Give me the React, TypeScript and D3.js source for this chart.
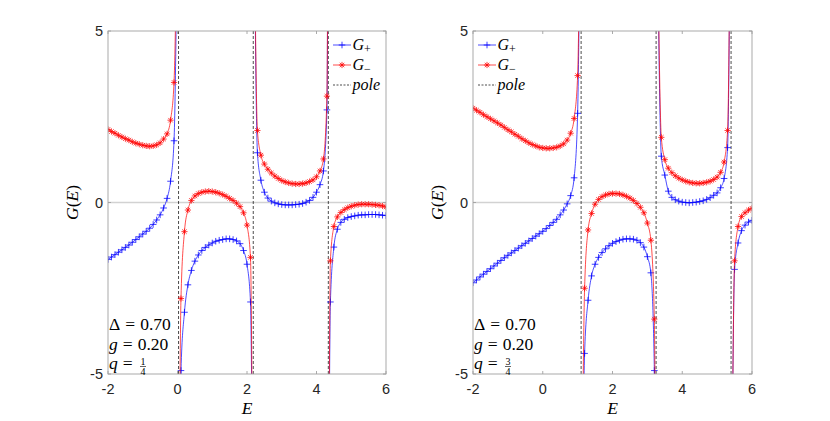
import React, { useEffect } from "react";
import * as d3 from "d3";

// ---------- data ----------
const energies = [
  -2.0, -1.9, -1.8, -1.7, -1.6, -1.5, -1.4, -1.3, -1.2, -1.1,
  -1.0, -0.9, -0.8, -0.7, -0.6, -0.5, -0.4, -0.3, -0.2, -0.1,
  0.0, 0.1, 0.2, 0.3, 0.4, 0.5, 0.6, 0.7, 0.8, 0.9,
  1.0, 1.1, 1.2, 1.3, 1.4, 1.5, 1.6, 1.7, 1.8, 1.9,
  2.0, 2.1, 2.2, 2.3, 2.4, 2.5, 2.6, 2.7, 2.8, 2.9,
  3.0, 3.1, 3.2, 3.3, 3.4, 3.5, 3.6, 3.7, 3.8, 3.9,
  4.0, 4.1, 4.2, 4.3, 4.4, 4.5, 4.6, 4.7, 4.8, 4.9,
  5.0, 5.1, 5.2, 5.3, 5.4, 5.5, 5.6, 5.7, 5.8, 5.9,
  6.0,
];

const polesLeft = [0.03, 2.18, 4.34];
const polesRight = [1.1, 3.25, 5.4];

const gPlusLeft: (number | null)[] = [
  -1.66, -1.59, -1.52, -1.45, -1.38, -1.31, -1.24, -1.16, -1.08, -1.0,
  -0.92, -0.84, -0.75, -0.64, -0.51, -0.36, -0.16, 0.12, 0.62, 1.8,
  null, -4.9, -3.2, -2.4, -1.98, -1.71, -1.53, -1.4, -1.31, -1.24,
  -1.18, -1.13, -1.1, -1.08, -1.06, -1.06, -1.08, -1.12, -1.2, -1.4,
  -1.8, -2.9, null, 1.45, 0.65, 0.3, 0.13, 0.04, -0.01, -0.04,
  -0.06, -0.07, -0.07, -0.07, -0.06, -0.05, -0.03, 0.01, 0.06, 0.15,
  0.3, 0.52, 0.92, 2.7, -2.9, -1.3, -0.78, -0.58, -0.49, -0.44,
  -0.41, -0.39, -0.37, -0.36, -0.36, -0.35, -0.35, -0.35, -0.36, -0.37,
  -0.38,
];
const gMinusLeft: (number | null)[] = [
  2.13, 2.07, 2.02, 1.96, 1.91, 1.86, 1.82, 1.77, 1.73, 1.7,
  1.67, 1.65, 1.64, 1.65, 1.68, 1.74, 1.85, 2.0, 2.4, 3.5,
  null, -2.8, -0.85, -0.22, 0.06, 0.19, 0.26, 0.3, 0.32, 0.33,
  0.32, 0.3, 0.27, 0.23, 0.18, 0.12, 0.06, -0.02, -0.12, -0.3,
  -0.66, -1.6, null, 2.1, 1.38, 1.12, 0.97, 0.86, 0.77, 0.7,
  0.64, 0.6, 0.57, 0.55, 0.54, 0.54, 0.55, 0.57, 0.61, 0.66,
  0.75, 0.92, 1.27, 3.1, -1.7, -0.7, -0.42, -0.29, -0.21, -0.15,
  -0.11, -0.08, -0.06, -0.05, -0.05, -0.05, -0.06, -0.07, -0.08, -0.1,
  -0.13,
];
const gPlusRight: (number | null)[] = [
  -2.34, -2.26, -2.17, -2.09, -2.01, -1.93, -1.85, -1.77, -1.69, -1.61,
  -1.54, -1.47, -1.4, -1.33, -1.26, -1.19, -1.12, -1.05, -0.98, -0.91,
  -0.84, -0.76, -0.67, -0.58, -0.49, -0.36, -0.22, -0.04, 0.2, 0.72,
  2.6, null, -4.4, -2.85, -2.14, -1.8, -1.6, -1.46, -1.35, -1.26,
  -1.19, -1.14, -1.1, -1.07, -1.06, -1.06, -1.07, -1.1, -1.17, -1.3,
  -1.58, -2.05, -4.9, null, 1.35, 0.8, 0.33, 0.15, 0.08, 0.04,
  0.01, 0.0, -0.01, 0.0, 0.01, 0.03, 0.05, 0.09, 0.14, 0.21,
  0.28, 0.43, 0.7, 1.6, null, -1.95, -1.18, -0.82, -0.66, -0.57,
  -0.52,
];
const gMinusRight: (number | null)[] = [
  2.75, 2.69, 2.63, 2.56, 2.5, 2.44, 2.38, 2.32, 2.26, 2.19,
  2.12, 2.06, 1.99, 1.93, 1.86, 1.8, 1.74, 1.69, 1.65, 1.61,
  1.59, 1.58, 1.58, 1.59, 1.61, 1.65, 1.71, 1.82, 2.02, 2.45,
  3.7, null, -2.5, -0.8, -0.32, -0.05, 0.09, 0.17, 0.22, 0.25,
  0.26, 0.26, 0.25, 0.22, 0.18, 0.13, 0.06, -0.03, -0.14, -0.3,
  -0.6, -1.1, -3.4, null, 1.9, 1.25, 1.0, 0.87, 0.78, 0.71,
  0.66, 0.62, 0.59, 0.57, 0.56, 0.56, 0.57, 0.59, 0.62, 0.67,
  0.74, 0.88, 1.18, 2.1, null, -1.7, -0.7, -0.41, -0.3, -0.22,
  -0.17,
];

const xTicks = [-2, 0, 2, 4, 6];
const yTicks = [-5, 0, 5];
const deltaText = "0.70";
const gText = "0.20";
const qNumLeft = "1";
const qNumRight = "3";
const qDen = "4";

// ---------- layout ----------
const W = 830;
const H = 421;
const TOP = 31;
const BOTTOM = 374;
const BIG = 12;
const SANS = "'Liberation Sans', Arial, sans-serif";
const SERIF = "'Liberation Serif', 'Times New Roman', serif";

type Pt = [number, number];

function plusPath(s: number) {
  return `M${-s},0H${s}M0,${-s}V${s}`;
}
function starPath(s: number) {
  const d = s * 0.72;
  return `M${-s},0H${s}M0,${-s}V${s}M${-d},${-d}L${d},${d}M${-d},${d}L${d},${-d}`;
}

interface PanelProps {
  left: number;
  right: number;
  poles: number[];
  plus: (number | null)[];
  minus: (number | null)[];
  legendX: number;
  qNum: string;
  id: string;
}

function Panel({ left, right, poles, plus, minus, legendX, qNum, id }: PanelProps) {
  const x = d3.scaleLinear().domain([-2, 6]).range([left, right]);
  const y = d3.scaleLinear().domain([-5, 5]).range([BOTTOM, TOP]);
  const line = d3
    .line<Pt>()
    .x((d) => x(d[0]))
    .y((d) => y(d[1]))
    .curve(d3.curveMonotoneX);

  const segments = (vals: (number | null)[]) => {
    const bounds = [-Infinity, ...poles, Infinity];
    const segs: Pt[][] = [];
    for (let i = 0; i < bounds.length - 1; i++) {
      const a = bounds[i];
      const b = bounds[i + 1];
      const pts: Pt[] = [];
      energies.forEach((e, k) => {
        const v = vals[k];
        if (v !== null && e > a && e < b) pts.push([e, v]);
      });
      if (!pts.length) continue;
      if (isFinite(a)) pts.unshift([a, Math.sign(pts[0][1]) * BIG]);
      if (isFinite(b)) pts.push([b, Math.sign(pts[pts.length - 1][1]) * BIG]);
      segs.push(pts);
    }
    return segs;
  };

  const markers = (vals: (number | null)[]) =>
    energies
      .map((e, k) => [e, vals[k]] as [number, number | null])
      .filter((d) => d[1] !== null && Math.abs(d[1] as number) <= 5) as Pt[];

  const clipId = `clip-${id}`;
  const frame = "#a0a0a0";
  const midX = (left + right) / 2;
  const blue = "#0000ff";
  const red = "#ff0000";
  const legendRows = [45, 65, 85];

  return (
    <g>
      <defs>
        <clipPath id={clipId}>
          <rect x={left} y={TOP} width={right - left} height={BOTTOM - TOP} />
        </clipPath>
      </defs>
      {/* zero line */}
      <line x1={left} x2={right} y1={y(0)} y2={y(0)} stroke="#d2d2d2" strokeWidth={1.3} />
      {/* poles */}
      {poles.map((p, i) => (
        <line
          key={i}
          x1={x(p)}
          x2={x(p)}
          y1={TOP}
          y2={BOTTOM}
          stroke="#000"
          strokeWidth={0.7}
          strokeDasharray="3,2"
        />
      ))}
      <g clipPath={`url(#${clipId})`}>
        {segments(plus).map((s, i) => (
          <path key={i} d={line(s) || ""} fill="none" stroke={blue} strokeWidth={0.7} />
        ))}
        {markers(plus).map((d, i) => (
          <path
            key={i}
            transform={`translate(${x(d[0])},${y(d[1])})`}
            d={plusPath(3.3)}
            stroke={blue}
            strokeWidth={0.75}
            fill="none"
          />
        ))}
        {segments(minus).map((s, i) => (
          <path key={i} d={line(s) || ""} fill="none" stroke={red} strokeWidth={0.7} />
        ))}
        {markers(minus).map((d, i) => (
          <path
            key={i}
            transform={`translate(${x(d[0])},${y(d[1])})`}
            d={starPath(3.1)}
            stroke={red}
            strokeWidth={0.75}
            fill="none"
          />
        ))}
      </g>
      {/* frame */}
      <rect
        x={left}
        y={TOP}
        width={right - left}
        height={BOTTOM - TOP}
        fill="none"
        stroke={frame}
        strokeWidth={0.9}
      />
      {/* ticks */}
      {xTicks.map((t) => (
        <g key={`xt${t}`}>
          <line x1={x(t)} x2={x(t)} y1={BOTTOM} y2={BOTTOM - 3} stroke={frame} strokeWidth={0.9} />
          <line x1={x(t)} x2={x(t)} y1={TOP} y2={TOP + 3} stroke={frame} strokeWidth={0.9} />
          <text
            x={x(t)}
            y={BOTTOM + 19.5}
            textAnchor="middle"
            fontFamily={SANS}
            fontSize={14.5}
            fill="#262626"
          >
            {t}
          </text>
        </g>
      ))}
      {yTicks.map((t) => (
        <g key={`yt${t}`}>
          <line x1={left} x2={left + 3} y1={y(t)} y2={y(t)} stroke={frame} strokeWidth={0.9} />
          <line x1={right} x2={right - 3} y1={y(t)} y2={y(t)} stroke={frame} strokeWidth={0.9} />
          <text
            x={left - 5}
            y={y(t) + 5}
            textAnchor="end"
            fontFamily={SANS}
            fontSize={14.5}
            fill="#262626"
          >
            {t}
          </text>
        </g>
      ))}
      {/* axis labels */}
      <text x={midX} y={BOTTOM + 40} textAnchor="middle" fontFamily={SERIF} fontSize={17.5} fontStyle="italic">
        E
      </text>
      <text
        transform={`translate(${left - 30},${(TOP + BOTTOM) / 2}) rotate(-90)`}
        textAnchor="middle"
        fontFamily={SERIF}
        fontSize={17.5}
      >
        <tspan fontStyle="italic">G</tspan>
        <tspan>(</tspan>
        <tspan fontStyle="italic">E</tspan>
        <tspan>)</tspan>
      </text>
      {/* legend */}
      <g fontFamily={SERIF} fontSize={16}>
        <line x1={legendX} x2={legendX + 18} y1={legendRows[0]} y2={legendRows[0]} stroke={blue} strokeWidth={0.7} />
        <path transform={`translate(${legendX + 9},${legendRows[0]})`} d={plusPath(3.3)} stroke={blue} strokeWidth={0.75} />
        <text x={legendX + 19.5} y={legendRows[0] + 5}>
          <tspan fontStyle="italic">G</tspan>
          <tspan fontSize={12} dy={2.5}>+</tspan>
        </text>
        <line x1={legendX} x2={legendX + 18} y1={legendRows[1]} y2={legendRows[1]} stroke={red} strokeWidth={0.7} />
        <path transform={`translate(${legendX + 9},${legendRows[1]})`} d={starPath(3.1)} stroke={red} strokeWidth={0.75} />
        <text x={legendX + 19.5} y={legendRows[1] + 5}>
          <tspan fontStyle="italic">G</tspan>
          <tspan fontSize={12} dy={2.5}>−</tspan>
        </text>
        <line
          x1={legendX}
          x2={legendX + 18}
          y1={legendRows[2]}
          y2={legendRows[2]}
          stroke="#000"
          strokeWidth={0.7}
          strokeDasharray="2,1.5"
        />
        <text x={legendX + 19.5} y={legendRows[2] + 5}>
          <tspan fontStyle="italic">pole</tspan>
        </text>
      </g>
      {/* annotation */}
      <g fontFamily={SERIF} fontSize={17.5}>
        <text x={left + 1} y={330}>
          <tspan>Δ</tspan>
          <tspan dx={5}>=</tspan>
          <tspan dx={5}>{deltaText}</tspan>
        </text>
        <text x={left + 1} y={349.5}>
          <tspan fontStyle="italic">g</tspan>
          <tspan dx={5}>=</tspan>
          <tspan dx={5}>{gText}</tspan>
        </text>
        <text x={left + 1} y={369}>
          <tspan fontStyle="italic">q</tspan>
          <tspan dx={5}>=</tspan>
        </text>
        <text x={left + 35} y={364.5} fontSize={10} textAnchor="middle">
          {qNum}
        </text>
        <line x1={left + 32} x2={left + 38} y1={366.5} y2={366.5} stroke="#000" strokeWidth={0.6} />
        <text x={left + 35} y={374.5} fontSize={10} textAnchor="middle">
          {qDen}
        </text>
      </g>
    </g>
  );
}

export default function App() {
  useEffect(() => {
    document.body.style.margin = "0";
  }, []);
  return (
    <svg width={W} height={H} viewBox={`0 0 ${W} ${H}`} style={{ display: "block", background: "#fff" }}>
      <Panel
        id="l"
        left={108}
        right={386}
        poles={polesLeft}
        plus={gPlusLeft}
        minus={gMinusLeft}
        legendX={333}
        qNum={qNumLeft}
      />
      <Panel
        id="r"
        left={473}
        right={752}
        poles={polesRight}
        plus={gPlusRight}
        minus={gMinusRight}
        legendX={478}
        qNum={qNumRight}
      />
    </svg>
  );
}
